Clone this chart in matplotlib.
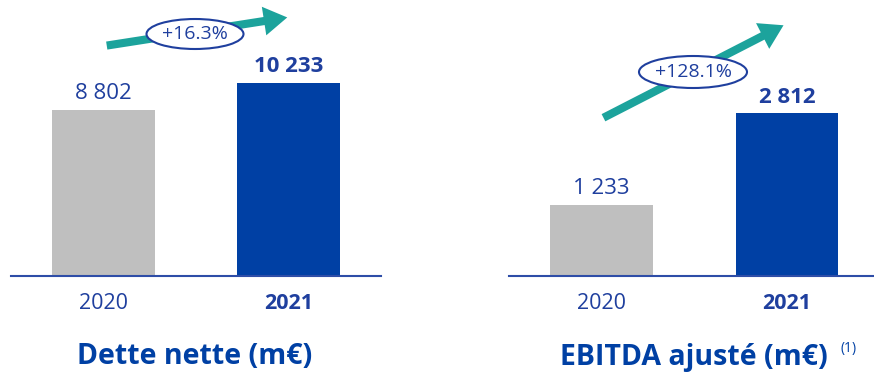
import matplotlib
matplotlib.use("Agg")
import matplotlib.pyplot as plt
from matplotlib.patches import Ellipse

plt.rcParams['font.family'] = ['Open Sans', 'DejaVu Sans']

years = ["2020", "2021"]
dette_values = [8802, 10233]
dette_labels = ["8 802", "10 233"]
ebitda_values = [1233, 2812]
ebitda_labels = ["1 233", "2 812"]
dette_growth = "+16.3%"
ebitda_growth = "+128.1%"
titles = ["Dette nette (m€)", "EBITDA ajusté (m€)"]

GRAY = "#BFBFBF"
BLUE = "#0040A4"
TXT = "#1F3F9E"
TEAL = "#1CA39C"

W, H = 874, 372
fig = plt.figure(figsize=(W / 100, H / 100), dpi=100)

def ax_px(x0, x1, ybase, ytop):
    return fig.add_axes([x0 / W, (H - ybase) / H, (x1 - x0) / W, (ybase - ytop) / H])

def draw(ax, values, labels, ymax, xmax):
    colors = [GRAY, BLUE]
    x = list(range(len(values)))
    ax.bar(x, values, width=0.555, color=colors, zorder=2)
    ax.set_xlim(-0.5, xmax)
    ax.set_ylim(0, ymax)
    for i, (v, lab) in enumerate(zip(values, labels)):
        ax.annotate(lab, (i, v), xytext=(0, 4), textcoords="offset points",
                    ha="center", va="bottom", fontsize=16, color=TXT,
                    fontweight="bold" if i == 1 else "normal")
    ax.set_xticks(x)
    ax.set_xticklabels(years, fontsize=15.5, color=TXT)
    ax.get_xticklabels()[1].set_fontweight("bold")
    ax.tick_params(axis="x", length=0, pad=12)
    ax.set_yticks([])
    for s in ["top", "left", "right"]:
        ax.spines[s].set_visible(False)
    ax.spines["bottom"].set_color("#2E4DA7")
    ax.spines["bottom"].set_linewidth(1.5)
    ax.patch.set_alpha(0)

ax1 = ax_px(11, 381, 276, 0)
draw(ax1, dette_values, dette_labels, 14600, 1.5)
ax2 = ax_px(509, 874, 276, 0)
draw(ax2, ebitda_values, ebitda_labels, 4770, 1.47)

def arrow(x0, y0, x1, y1):
    fig.patches.append(matplotlib.patches.FancyArrowPatch(
        ((x0) / W, (H - y0) / H), ((x1) / W, (H - y1) / H),
        transform=fig.transFigure, arrowstyle="simple,head_width=1.6,head_length=1.3,tail_width=0.45",
        mutation_scale=13, color=TEAL, lw=0, zorder=3))

def bubble(cx, cy, w, h, txt):
    e = Ellipse((cx / W, (H - cy) / H), w / W, h / H, transform=fig.transFigure,
                facecolor="white", edgecolor="#1F3F9E", lw=1.5, zorder=4)
    fig.patches.append(e)
    fig.text(cx / W, (H - cy) / H, txt, ha="center", va="center",
             fontsize=14, color=TXT, zorder=5)

arrow(104, 46, 290, 17)
bubble(195, 34, 97, 30, dette_growth)
arrow(601, 119, 786, 24)
bubble(693, 72, 108, 32, ebitda_growth)

fig.text(195 / W, (H - 357) / H, titles[0], ha="center", va="center",
         fontsize=20.5, fontweight="bold", color=BLUE)
fig.text(694 / W, (H - 357) / H, titles[1], ha="center", va="center",
         fontsize=20.5, fontweight="bold", color=BLUE)
fig.text(848.5 / W, (H - 348.5) / H, "(1)", ha="center", va="center",
         fontsize=10, color=BLUE)

fig.savefig("out.png", dpi=100)
